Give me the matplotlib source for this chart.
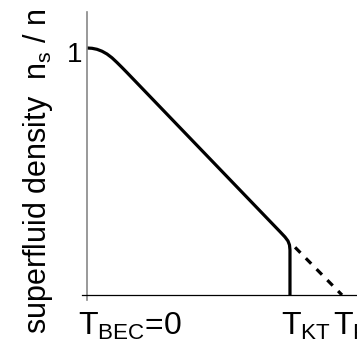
import matplotlib
matplotlib.use("Agg")
import matplotlib.pyplot as plt
import matplotlib.transforms as mtransforms

plt.rcParams['font.family'] = ['Liberation Sans', 'DejaVu Sans']
plt.rcParams['mathtext.fontset'] = 'custom'
plt.rcParams['mathtext.rm'] = 'Liberation Sans'

# superfluid density curve (T scaled so that T_P = 1)
temp = [0.0, 0.0196, 0.0392, 0.0588, 0.0784, 0.098, 0.1176, 0.1373, 0.1569,
        0.4431, 0.6392, 0.7176, 0.7569, 0.7765, 0.7882, 0.7941, 0.796, 0.796]
ns = [1.0, 0.9988, 0.9947, 0.9870, 0.9757, 0.9603, 0.9413, 0.9211, 0.9004,
      0.5931, 0.3826, 0.2984, 0.2563, 0.2348, 0.2186, 0.2024, 0.1822, 0.0]

# extrapolated (dashed) part beyond T_KT
temp_dash = [0.816, 1.0]
ns_dash = [0.193, 0.0]

tick_pos = [0.0, 0.796, 1.0]
tick_labels = [r'T$_\mathregular{BEC}$=0', r'T$_\mathregular{KT}$', r'T$_\mathregular{P}$']

fig = plt.figure(figsize=(3.57, 3.46), dpi=100)
ax = fig.add_axes([82 / 357, 46 / 346, 275 / 357, 288 / 346])

ax.plot(temp, ns, color='black', lw=2.3, solid_capstyle='butt', solid_joinstyle='round', clip_on=False)
ax.plot(temp_dash, ns_dash, color='black', lw=2.3, dashes=(2.4, 2.4), clip_on=False)

ax.set_xlim(-5 / 255, 270 / 255)
ax.set_ylim(-5 / 247, 283 / 247)

for s in ['top', 'right']:
    ax.spines[s].set_visible(False)
ax.spines['left'].set_position(('data', 0))
ax.spines['bottom'].set_position(('data', 0))
ax.spines['left'].set_color('#888888')
ax.spines['left'].set_linewidth(1.2)
ax.spines['bottom'].set_color('black')
ax.spines['bottom'].set_linewidth(0.9)

ax.set_xticks([])
ax.set_yticks([1])
ax.set_yticklabels(['1'], fontsize=20)
ax.tick_params(axis='y', length=0, pad=3)
down = mtransforms.ScaledTranslation(0, -4 / 100, fig.dpi_scale_trans)
for lab in ax.get_yticklabels():
    lab.set_transform(lab.get_transform() + down)

# x labels: the "T" is centred on the tick position
trans = mtransforms.blended_transform_factory(ax.transData, fig.transFigure)
offset = mtransforms.ScaledTranslation(-9 / 100, 0, fig.dpi_scale_trans)
for x, lab in zip(tick_pos, tick_labels):
    ax.text(x, 1 - 335 / 346, lab, fontsize=23, ha='left', va='baseline',
            transform=trans + offset)

fig.text(38 / 357, 1 - 171 / 346, r'superfluid density  n$_\mathregular{s}$ / n',
         rotation=90, fontsize=22, ha='center', va='center')

fig.savefig('out.png', dpi=100)
